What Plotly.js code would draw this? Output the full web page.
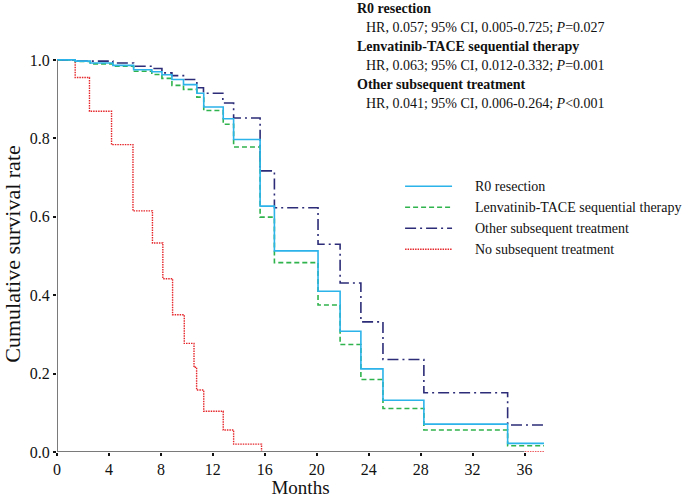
<!DOCTYPE html>
<html>
<head>
<meta charset="utf-8">
<script src="https://cdn.plot.ly/plotly-3.0.1.min.js"></script>
<style>html,body{margin:0;padding:0;background:#fff;}#chart{width:685px;height:498px;}</style>
</head>
<body>
<div id="chart"></div>
<script>
// ---- data ----
const seriesNames = ["R0 resection", "Lenvatinib-TACE sequential therapy", "Other subsequent treatment", "No subsequent treatment"];

const r0Months = [0, 1.4, 2.56, 4.3, 5.9, 7.3, 8.08, 8.85, 9.74, 10.77, 11.3, 12.8, 13.6, 15.64, 16.74, 20.1, 21.8, 23.4, 25.1, 28.25, 34.7, 37.5];
const r0Surv   = [1.0, 0.997, 0.992, 0.986, 0.975, 0.970, 0.962, 0.950, 0.937, 0.915, 0.880, 0.850, 0.797, 0.627, 0.513, 0.410, 0.308, 0.212, 0.132, 0.071, 0.022, 0.022];

const lenvMonths = [0, 1.4, 2.56, 4.3, 5.9, 7.3, 8.08, 8.85, 9.74, 10.77, 11.3, 12.8, 13.6, 15.64, 16.74, 20.1, 21.8, 23.4, 25.1, 28.25, 34.7, 37.5];
const lenvSurv   = [1.0, 0.996, 0.990, 0.984, 0.971, 0.963, 0.953, 0.935, 0.925, 0.905, 0.871, 0.836, 0.778, 0.599, 0.483, 0.375, 0.274, 0.185, 0.111, 0.056, 0.016, 0.016];

const otherMonths = [0, 1.4, 4.3, 5.9, 7.3, 8.08, 8.85, 9.74, 10.77, 11.28, 12.77, 13.6, 15.64, 16.74, 20.1, 21.8, 23.4, 25.1, 28.25, 34.7, 37.5];
const otherSurv   = [1.0, 0.997, 0.992, 0.984, 0.978, 0.967, 0.960, 0.950, 0.929, 0.915, 0.890, 0.852, 0.717, 0.623, 0.530, 0.431, 0.332, 0.236, 0.151, 0.069, 0.069];

const noneMonths = [0, 1.4, 2.5, 4.2, 5.85, 7.35, 8.15, 8.9, 9.8, 10.55, 10.75, 11.3, 12.8, 13.6, 15.75, 37.5];
const noneSurv   = [1.0, 0.955, 0.869, 0.784, 0.615, 0.533, 0.442, 0.350, 0.277, 0.216, 0.158, 0.104, 0.056, 0.020, 0.0, 0.0];

const xTicks = [0, 4, 8, 12, 16, 20, 24, 28, 32, 36];
const yTicks = [0, 0.2, 0.4, 0.6, 0.8, 1.0];

const hrHeaders = ["R0 resection", "Lenvatinib-TACE sequential therapy", "Other subsequent treatment"];
const hrLines = [
  "HR, 0.057; 95% CI, 0.005-0.725; <i>P</i>=0.027",
  "HR, 0.063; 95% CI, 0.012-0.332; <i>P</i>=0.001",
  "HR, 0.041; 95% CI, 0.006-0.264; <i>P</i>&lt;0.001"
];

// ---- styling ----
const FONT = '"Liberation Serif", "Times New Roman", serif';
const styles = [
  {color: '#2bb3ea', dash: 'solid', width: 1.6},
  {color: '#2fb34c', dash: '5px,3px', width: 1.6},
  {color: '#2c2c78', dash: '11px,4px,2px,4px', width: 1.6},
  {color: '#e5262b', dash: '1.5px,1px', width: 1.4}
];
const xs = [r0Months, lenvMonths, otherMonths, noneMonths];
const ys = [r0Surv, lenvSurv, otherSurv, noneSurv];

const traces = xs.map((x, i) => ({
  x: x, y: ys[i], name: seriesNames[i], type: 'scatter', mode: 'lines',
  line: {shape: 'hv', color: styles[i].color, dash: styles[i].dash, width: styles[i].width},
  showlegend: false, hoverinfo: 'skip'
}));
const ordered = [traces[3], traces[2], traces[1], traces[0]];

// plot-area geometry (pixels)
const L = 56.7, R = 544, T = 55.6, B = 452;
const px2x = p => (p - L) / (R - L);
const py2y = p => (B - p) / (B - T);

const shapes = [
  {type: 'line', xref: 'x', yref: 'y', x0: 0, x1: 36, y0: 0, y1: 0, line: {color: '#7a7a7a', width: 2}, layer: 'above'},
  {type: 'line', xref: 'x', yref: 'y', x0: 0, x1: 0, y0: 0, y1: 1.0, line: {color: '#7a7a7a', width: 2}, layer: 'above'}
];
const annotations = [];
const legendY = [186, 207, 228, 249];
seriesNames.forEach((n, i) => {
  shapes.push({type: 'line', xref: 'paper', yref: 'paper', x0: px2x(405), x1: px2x(452), y0: py2y(legendY[i]), y1: py2y(legendY[i]),
    line: {color: styles[i].color, dash: styles[i].dash, width: styles[i].width}});
  annotations.push({xref: 'paper', yref: 'paper', x: px2x(473), y: py2y(legendY[i]), xanchor: 'left', yanchor: 'middle',
    text: n, showarrow: false, font: {family: FONT, size: 14, color: '#111'}});
});
const headY = [8, 46, 84];
const lineY = [27, 65, 103];
hrHeaders.forEach((h, i) => {
  annotations.push({xref: 'paper', yref: 'paper', x: px2x(355), y: py2y(headY[i]), xanchor: 'left', yanchor: 'middle',
    text: '<b>' + h + '</b>', showarrow: false, font: {family: FONT, size: 14, color: '#111'}});
  annotations.push({xref: 'paper', yref: 'paper', x: px2x(364), y: py2y(lineY[i]), xanchor: 'left', yanchor: 'middle',
    text: hrLines[i], showarrow: false, font: {family: FONT, size: 14, color: '#111'}});
});

const layout = {
  width: 685, height: 498,
  margin: {l: L, r: 685 - R, t: T, b: 498 - B, pad: 0},
  paper_bgcolor: '#fff', plot_bgcolor: '#fff',
  font: {family: FONT, size: 16, color: '#111'},
  showlegend: false,
  xaxis: {
    range: [0, 37.5], tickvals: xTicks, ticktext: xTicks.map(String),
    showline: false, showgrid: false, zeroline: false,
    ticks: 'outside', ticklen: 3, tickwidth: 2, tickcolor: '#111',
    tickfont: {family: FONT, size: 16, color: '#111'},
    title: {text: 'Months', font: {family: FONT, size: 19, color: '#111'}, standoff: 2}
  },
  yaxis: {
    range: [0, 1.01], tickvals: yTicks, ticktext: yTicks.map(v => v.toFixed(1)),
    showline: false, showgrid: false, zeroline: false,
    ticks: 'outside', ticklen: 3, tickwidth: 2, tickcolor: '#111',
    tickfont: {family: FONT, size: 16, color: '#111'},
    title: {text: 'Cumulative survival rate', font: {family: FONT, size: 22, color: '#111'}, standoff: 3}
  },
  shapes: shapes,
  annotations: annotations
};

Plotly.newPlot('chart', ordered, layout, {staticPlot: true, displayModeBar: false});
</script>
</body>
</html>
